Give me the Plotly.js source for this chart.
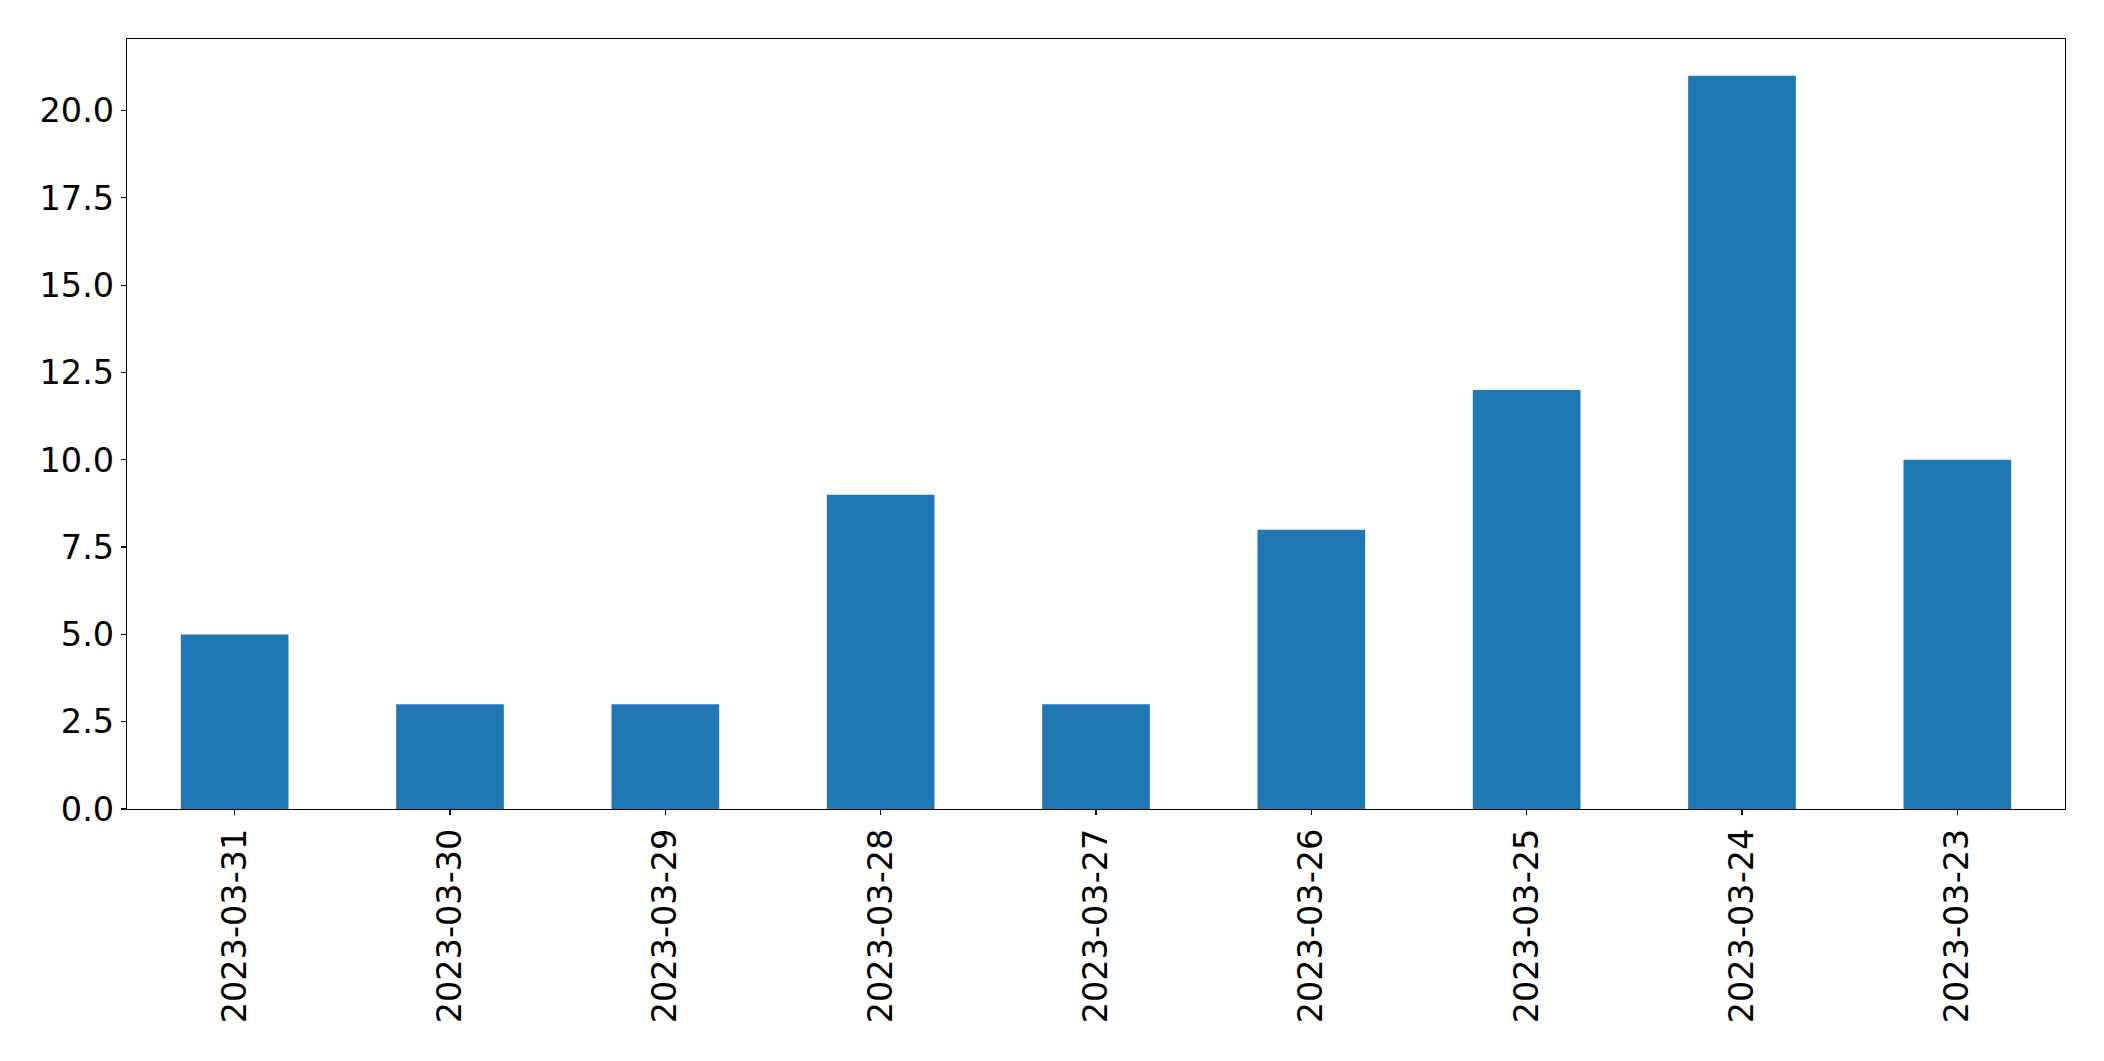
<!DOCTYPE html>
<html>
<head>
<meta charset="utf-8">
<script src="https://cdn.plot.ly/plotly-3.0.1.min.js"></script>
<style>html,body{margin:0;padding:0;background:#fff;}#chart{width:2104px;height:1061px;}</style>
</head>
<body>
<div id="chart"></div>
<script>
const categories = ["2023-03-31","2023-03-30","2023-03-29","2023-03-28","2023-03-27","2023-03-26","2023-03-25","2023-03-24","2023-03-23"];
const values = [5,3,3,9,3,8,12,21,10];
const yTicks = [0,2.5,5,7.5,10,12.5,15,17.5,20];
const yTickLabels = ["0.0","2.5","5.0","7.5","10.0","12.5","15.0","17.5","20.0"];

const font = {family: "DejaVu Sans", size: 33.5, color: "#000"};
Plotly.newPlot("chart", [{
  type: "bar",
  x: categories.map((_, i) => i),
  y: values,
  width: 0.5,
  marker: {color: "#1f77b4", line: {width: 0}},
  hoverinfo: "x+y"
}], {
  width: 2104, height: 1061,
  margin: {l: 127, r: 39, t: 39, b: 252, pad: 0},
  paper_bgcolor: "#fff", plot_bgcolor: "#fff",
  showlegend: false,
  font: font,
  xaxis: {
    range: [-0.5, 8.5], tickmode: "array",
    tickvals: categories.map((_, i) => i), ticktext: categories,
    tickangle: -90, ticks: "outside", ticklen: 5, tickwidth: 1.2, tickcolor: "#000",
    showline: true, linecolor: "#000", linewidth: 1.2, mirror: true,
    showgrid: false, zeroline: false, tickfont: font
  },
  yaxis: {
    range: [0, 22.05], tickmode: "array", tickvals: yTicks, ticktext: yTickLabels,
    ticks: "outside", ticklen: 5, tickwidth: 1.2, tickcolor: "#000",
    showline: true, linecolor: "#000", linewidth: 1.2, mirror: true,
    showgrid: false, zeroline: false, tickfont: font
  }
}, {displayModeBar: false, staticPlot: true});
</script>
</body>
</html>
